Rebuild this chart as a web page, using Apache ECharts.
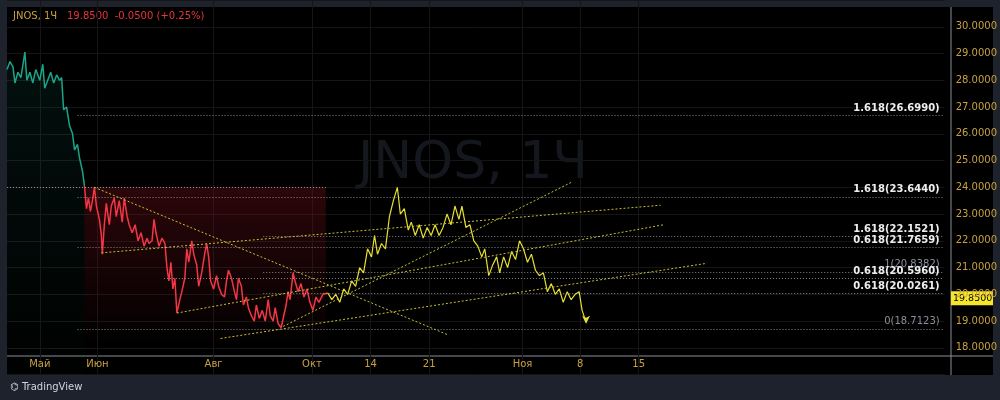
<!DOCTYPE html><html><head><meta charset="utf-8"><script src="https://cdn.jsdelivr.net/npm/echarts@6/dist/echarts.min.js"></script>
<style>html,body{margin:0;background:#1e222d}#c{width:1000px;height:400px}</style></head><body><div id="c"></div><script>
const tickBars=[33,91,208,307,366,425,519,577,636];
const tickLabels=['Май','Июн','Авг','Окт','14','21','Ноя','8','15'];
const priceTicks=[18,19,20,21,22,23,24,25,26,27,28,29,30];
const greenData=[[7,28.4],[10,28.7],[13,28.5],[15,27.9],[18,28.3],[21,28.1],[25,29.05],[27,28.0],[30,28.3],[33,27.9],[36,28.4],[40,28.0],[43,28.6],[45,27.7],[48,28.0],[51,28.3],[54,27.9],[57,28.2],[60,28.0],[62,28.1],[64,26.9],[67,27.0],[70,26.3],[73,26.0],[75,25.4],[78,25.6],[80,25.1],[83,24.6],[85,24.05]];
const redData=[[85,24.05],[87,23.2],[89,23.6],[91,23.1],[93,23.5],[95,24.0],[97,23.3],[100,22.8],[102,22.2],[103,21.5],[105,22.6],[107,23.4],[110,22.6],[112,23.3],[115,23.6],[117,22.9],[120,23.5],[123,22.7],[125,23.6],[128,22.9],[130,22.6],[133,22.3],[136,22.6],[139,22.0],[142,22.3],[145,21.8],[148,22.1],[150,21.9],[153,22.0],[155,22.8],[157,22.3],[160,21.8],[163,22.1],[166,21.9],[168,21.0],[170,20.5],[172,21.2],[174,20.2],[176,20.6],[178,19.3],[181,19.8],[183,20.1],[186,20.6],[188,21.7],[190,21.2],[193,22.0],[195,21.5],[198,21.1],[200,20.3],[203,20.8],[206,21.5],[208,21.9],[210,21.4],[212,20.5],[215,20.2],[218,20.7],[220,20.3],[223,20.0],[226,19.9],[228,20.5],[230,20.9],[233,20.6],[236,20.1],[238,19.8],[240,20.6],[243,20.3],[245,19.6],[248,19.9],[250,19.5],[253,19.2],[256,19.0],[258,19.6],[261,19.1],[264,19.4],[267,19.0],[270,19.8],[272,19.2],[275,19.0],[277,19.5],[280,18.9],[283,18.75],[285,18.8],[288,19.6],[290,20.1],[292,19.8],[295,20.8],[297,20.5],[300,20.1],[303,20.4],[306,19.9],[309,20.2],[312,19.7],[315,19.4],[318,19.9],[321,19.7],[325,20.0],[330,20.05]];
const yellowData=[[330,20.05],[334,19.8],[338,20.0],[342,19.7],[346,20.2],[350,20.0],[354,20.5],[358,20.3],[362,21.0],[366,20.8],[370,21.7],[374,21.4],[377,22.2],[380,21.5],[384,21.9],[388,21.7],[392,22.9],[396,23.5],[400,24.0],[403,23.0],[407,23.2],[411,22.4],[414,22.7],[418,22.2],[422,22.6],[426,22.1],[430,22.5],[434,22.2],[438,22.6],[442,22.2],[446,22.5],[450,23.0],[454,22.6],[458,23.3],[462,22.8],[465,23.3],[469,22.5],[473,22.6],[477,22.0],[481,21.8],[485,21.4],[488,21.7],[492,20.7],[496,21.1],[500,21.4],[503,20.8],[507,21.4],[511,21.0],[515,21.6],[519,21.3],[523,22.0],[527,21.7],[531,21.2],[535,21.5],[539,20.9],[543,20.7],[547,20.8],[551,20.1],[555,20.4],[559,20.0],[563,20.2],[567,19.7],[571,20.1],[575,19.8],[579,20.0],[583,20.1],[586,19.4],[590,18.95]];
const trendLines=[[[95,24.0],[450,18.5]],[[102,21.55],[665,23.33]],[[178,19.3],[668,22.6]],[[222,18.35],[710,21.15]],[[285,18.8],[576,24.2]]];
const fibStart=[78,78,265,78,265,165,265,78];
const fibPrice=[26.699,23.644,22.1521,21.7659,20.8382,20.596,20.0261,18.7123];
const fibLabels=['1.618(26.6990)','1.618(23.6440)','1.618(22.1521)','0.618(21.7659)','1(20.8382)','0.618(20.5960)','0.618(20.0261)','0(18.7123)'];
const lastPrice=19.85;
const X=d=>d.map(p=>[p[0]-7,p[1]]);
const cats=[];for(let i=0;i<=944;i++)cats.push(String(i));
const fibLines=fibPrice.map((p,i)=>{const gray=fibLabels[i].startsWith('1(')||fibLabels[i].startsWith('0(');return [{coord:[fibStart[i]-7,p],label:{show:true,position:'insideEndTop',distance:[4,2],formatter:fibLabels[i],color:gray?'#8a8e99':'#eeeeee',fontWeight:gray?'normal':'bold',fontSize:10,fontFamily:'DejaVu Sans'}},{coord:[943,p]}];});
const chart=echarts.init(document.getElementById('c'));
chart.setOption({animation:false,backgroundColor:'#1e222d',
graphic:[{type:'rect',id:'bg',z:-10,silent:true,shape:{x:7,y:7,width:986,height:368},style:{fill:'#000'}},
{type:'text',id:'wm',left:358,top:138,z:-5,style:{text:'JNOS, 1Ч',fill:'#14171d',font:'52px "DejaVu Sans"'}},
{type:'text',id:'t1',left:13,top:11,style:{text:'JNOS, 1Ч',fill:'#c8a040',font:'10px "DejaVu Sans"'}},
{type:'text',id:'t2',left:67,top:11,style:{text:'19.8500  -0.0500 (+0.25%)',fill:'#e5353d',font:'10px "DejaVu Sans"'}},
{type:'line',id:'l1',shape:{x1:7,y1:356,x2:993,y2:356},style:{stroke:'#8a8e99',lineWidth:1}},
{type:'line',id:'l2',shape:{x1:951,y1:7,x2:951,y2:375},style:{stroke:'#8a8e99',lineWidth:1}},
{type:'rect',id:'bot',shape:{x:0,y:375,width:1000,height:25},style:{fill:'#1e222d'}},
{type:'text',id:'tv',left:10,top:382,style:{text:'⌬ TradingView',fill:'#d1d4dc',font:'10px "DejaVu Sans"'}}],
grid:{left:7,right:49,top:347-13*27.6,bottom:400-(347+27.6),containLabel:false},
xAxis:{type:'category',data:cats,boundaryGap:false,axisLine:{show:false},axisTick:{show:false},
 axisLabel:{interval:(i)=>tickBars.includes(i),formatter:(v,i)=>tickLabels[tickBars.indexOf(i)]||'',margin:-15,color:'#c8a040',fontSize:10,fontFamily:'DejaVu Sans'},
 splitLine:{show:true,interval:(i)=>tickBars.includes(i),lineStyle:{color:'#151515'}}},
yAxis:{type:'value',position:'right',min:17,max:31,interval:1,axisLine:{show:false},axisTick:{show:false},
 axisLabel:{margin:11,formatter:v=>priceTicks.includes(v)?v.toFixed(4):'',color:'#c8a040',fontSize:10,fontFamily:'DejaVu Sans'},
 splitLine:{lineStyle:{color:'#151515'}}},
series:[
{type:'line',data:X(greenData),symbol:'none',lineStyle:{color:'#1aa58a',width:1.5},
 areaStyle:{color:new echarts.graphic.LinearGradient(0,0,0,1,[{offset:0,color:'rgba(26,165,138,0.14)'},{offset:1,color:'rgba(26,165,138,0.01)'}])},
 markArea:{silent:true,itemStyle:{color:new echarts.graphic.LinearGradient(0,0,0,1,[{offset:0,color:'rgba(110,15,25,0.4)'},{offset:1,color:'rgba(110,15,25,0)'}])},data:[[{coord:[78,24.0]},{coord:[321,18.0]}]]},
 markLine:{silent:true,symbol:'none',lineStyle:{color:'rgba(190,190,190,0.7)',type:[1,2],width:1},data:[[{coord:[0,24.0]},{coord:[321,24.0]}]].concat(fibLines)}},
{type:'line',data:X(redData),symbol:'none',lineStyle:{color:'#f23645',width:1.5}},
{type:'line',data:X(yellowData),symbol:'none',lineStyle:{color:'#e8e030',width:1.2},
 markPoint:{symbol:'arrow',symbolSize:[6,8],symbolRotate:180,itemStyle:{color:'#e8e030'},label:{show:false},data:[{coord:[583,18.9]}]}},
...trendLines.map(t=>({type:'line',data:X(t),symbol:'none',lineStyle:{color:'#c8c030',type:[2,2],width:1}}))
]});
const py=chart.convertToPixel({yAxisIndex:0},lastPrice);
chart.setOption({graphic:[{type:'rect',id:'pb',shape:{x:951,y:py-7,width:42,height:14},style:{fill:'#f5e62a'}},{type:'text',id:'pt',left:953,top:py-5,style:{text:lastPrice.toFixed(4),fill:'#000',font:'9.5px "DejaVu Sans"'}}]});
</script></body></html>
